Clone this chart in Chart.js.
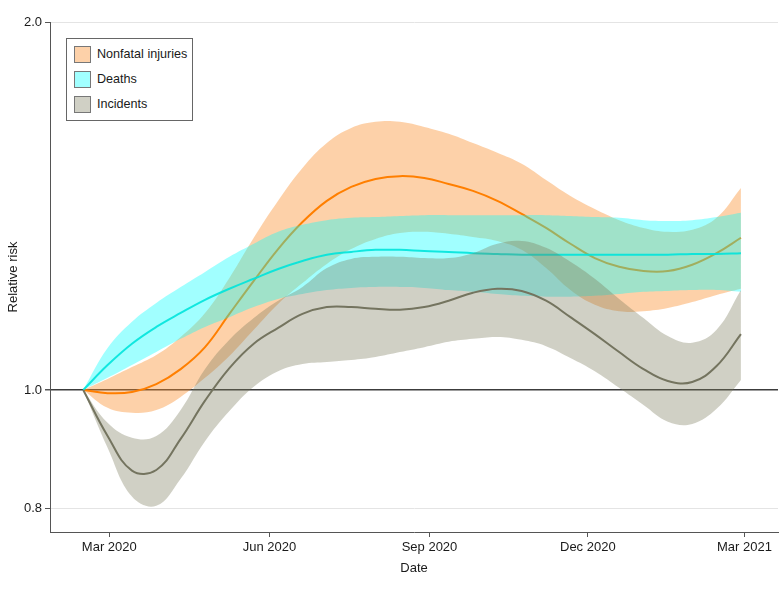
<!DOCTYPE html>
<html lang="en">
<head>
<meta charset="UTF-8">
<title>Relative risk over time</title>
<script src="https://cdn.jsdelivr.net/npm/chart.js"></script>
<style>
  body { margin: 0; background: #fff; }
  #wrap { position: relative; width: 780px; height: 593px; }
  #legend {
    position: absolute; left: 66px; top: 38px; width: 127px; height: 83px;
    box-sizing: border-box; border: 1px solid #666; background: #fff;
    font-family: 'Liberation Sans', Arial, sans-serif; font-size: 12.6px; color: #1a1a1a;
  }
  #legend .item { position: absolute; left: 7px; height: 17px; line-height: 17px; white-space: nowrap; }
  #legend .sw { display: inline-block; width: 15px; height: 15px; border: 1px solid #777; vertical-align: top; margin-right: 6px; }
</style>
</head>
<body>
<div id="wrap">
  <canvas id="chart"></canvas>
  <div id="legend">
    <div class="item" style="top:7px"><span class="sw" style="background:rgb(253,209,169)"></span>Nonfatal injuries</div>
    <div class="item" style="top:32px"><span class="sw" style="background:rgb(161,255,255)"></span>Deaths</div>
    <div class="item" style="top:57px"><span class="sw" style="background:rgb(208,208,197)"></span>Incidents</div>
  </div>
</div>
<script>
var dates = ['2020-02-15','2020-02-29','2020-03-14','2020-03-28','2020-04-11','2020-04-25','2020-05-09','2020-05-23',
  '2020-06-06','2020-06-20','2020-07-04','2020-07-18','2020-08-01','2020-08-15','2020-08-29','2020-09-12',
  '2020-09-26','2020-10-10','2020-10-24','2020-11-07','2020-11-21','2020-12-05','2020-12-19','2021-01-02',
  '2021-01-16','2021-01-30','2021-02-13','2021-02-27'];

var nonfatalRR = [1.000,0.994,0.996,1.011,1.040,1.084,1.154,1.228,1.304,1.372,1.428,1.466,1.488,1.496,1.491,1.474,1.455,1.428,1.393,1.357,1.317,1.282,1.261,1.251,1.251,1.266,1.294,1.332];
var nonfatalHi = [1.000,1.021,1.044,1.068,1.105,1.156,1.235,1.332,1.428,1.519,1.592,1.638,1.657,1.657,1.641,1.620,1.592,1.563,1.531,1.485,1.441,1.406,1.377,1.357,1.347,1.352,1.383,1.463];
var nonfatalLo = [1.000,0.967,0.958,0.963,0.987,1.023,1.066,1.120,1.176,1.223,1.268,1.304,1.329,1.344,1.347,1.342,1.334,1.324,1.302,1.258,1.207,1.174,1.160,1.160,1.167,1.180,1.196,1.210];

var deathsRR = [1.000,1.048,1.091,1.126,1.156,1.185,1.210,1.233,1.256,1.275,1.290,1.297,1.302,1.302,1.299,1.297,1.294,1.292,1.290,1.290,1.290,1.290,1.290,1.290,1.290,1.292,1.292,1.294];
var deathsHi = [1.000,1.082,1.137,1.178,1.214,1.249,1.285,1.317,1.347,1.365,1.377,1.383,1.385,1.388,1.390,1.390,1.390,1.390,1.390,1.390,1.388,1.385,1.383,1.377,1.375,1.377,1.385,1.396];
var deathsLo = [1.000,1.023,1.048,1.074,1.101,1.126,1.147,1.169,1.187,1.198,1.207,1.212,1.214,1.214,1.212,1.207,1.203,1.198,1.194,1.192,1.192,1.194,1.198,1.203,1.205,1.207,1.207,1.203];

var incidentsRR = [1.000,0.917,0.859,0.860,0.912,0.980,1.042,1.091,1.124,1.154,1.169,1.169,1.165,1.163,1.169,1.183,1.201,1.210,1.205,1.183,1.147,1.111,1.074,1.040,1.017,1.015,1.046,1.111];
var incidentsHi = [1.000,0.940,0.914,0.917,0.963,1.040,1.099,1.145,1.183,1.214,1.258,1.280,1.285,1.285,1.282,1.282,1.294,1.317,1.324,1.307,1.273,1.233,1.187,1.145,1.107,1.093,1.120,1.207];
var incidentsLo = [1.000,0.897,0.818,0.804,0.846,0.908,0.961,1.006,1.036,1.050,1.054,1.058,1.064,1.074,1.084,1.095,1.101,1.105,1.099,1.086,1.062,1.036,1.004,0.972,0.942,0.938,0.965,1.019];

var xTickDates = ['2020-03-01','2020-06-01','2020-09-01','2020-12-01','2021-03-01'];
var xTickLabels = ['Mar 2020','Jun 2020','Sep 2020','Dec 2020','Mar 2021'];
var yTicks = [0.8, 1.0, 2.0];

// days since 1 Mar 2020 (no date adapter offline, so use a linear axis)
function dayNum(s) {
  var p = s.split('-');
  return (Date.UTC(+p[0], +p[1] - 1, +p[2]) - Date.UTC(2020, 2, 1)) / 86400000;
}
var days = dates.map(dayNum);
var xTickDays = xTickDates.map(dayNum);

function pts(vals) {
  return vals.map(function (v, i) { return { x: days[i], y: v }; });
}

var FONT = "'Liberation Sans', Arial, sans-serif";

function band(vals, color, fill, order) {
  return { data: pts(vals), fill: fill, backgroundColor: color, borderWidth: 0, borderColor: 'rgba(0,0,0,0)',
    pointRadius: 0, tension: 0.4, order: order };
}
function line(vals, color, order) {
  return { data: pts(vals), fill: false, borderColor: color, borderWidth: 2, pointRadius: 0,
    tension: 0.4, order: order };
}

new Chart(document.getElementById('chart'), {
  type: 'line',
  data: {
    datasets: [
      band(nonfatalHi, 'rgba(250,140,40,0.4)', '+1', 7),
      band(nonfatalLo, 'rgba(0,0,0,0)', false, 7),
      line(nonfatalRR, '#ff7f00', 6),
      band(deathsHi, 'rgba(0,255,255,0.37)', '+1', 5),
      band(deathsLo, 'rgba(0,0,0,0)', false, 5),
      line(deathsRR, 'rgba(0,228,220,0.9)', 4),
      band(incidentsHi, 'rgba(120,120,90,0.35)', '+1', 3),
      band(incidentsLo, 'rgba(0,0,0,0)', false, 3),
      line(incidentsRR, '#74745f', 2)
    ]
  },
  options: {
    responsive: true,
    maintainAspectRatio: false,
    animation: false,
    layout: { padding: { top: 22, right: 2, left: 0, bottom: 0 } },
    plugins: { legend: { display: false }, tooltip: { enabled: false } },
    scales: {
      x: {
        type: 'linear',
        min: -34.1,
        max: 384.3,
        afterBuildTicks: function (scale) {
          scale.ticks = xTickDays.map(function (d) { return { value: d }; });
        },
        afterFit: function (scale) { scale.height = 61; },
        ticks: {
          autoSkip: false, maxRotation: 0, padding: 3, color: '#1a1a1a',
          font: { family: FONT, size: 13 },
          callback: function (v, i) { return xTickLabels[i]; }
        },
        grid: { drawOnChartArea: false, drawTicks: true, tickLength: 5, tickColor: '#555' },
        border: { display: true, color: '#555', width: 1 },
        title: { display: true, text: 'Date', color: '#1a1a1a', font: { family: FONT, size: 13 }, padding: { top: 4, bottom: 17 } }
      },
      y: {
        type: 'logarithmic',
        min: 0.7652,
        max: 2.0,
        afterBuildTicks: function (scale) {
          scale.ticks = yTicks.map(function (v) { return { value: v }; });
        },
        afterFit: function (scale) { scale.width = 50; },
        ticks: {
          padding: 3, color: '#1a1a1a',
          font: { family: FONT, size: 13 },
          callback: function (v) { return Number(v).toFixed(1); }
        },
        grid: {
          drawTicks: true, tickLength: 5, tickColor: '#555',
          color: function (ctx) { return ctx.tick && ctx.tick.value === 1 ? '#3c3c3c' : '#e4e4e4'; },
          lineWidth: function (ctx) { return ctx.tick && ctx.tick.value === 1 ? 1.5 : 1; }
        },
        border: { display: true, color: '#555', width: 1 },
        title: { display: true, text: 'Relative risk', color: '#1a1a1a', font: { family: FONT, size: 13 }, padding: { top: 6, bottom: 0 } }
      }
    }
  }
});
</script>
</body>
</html>
